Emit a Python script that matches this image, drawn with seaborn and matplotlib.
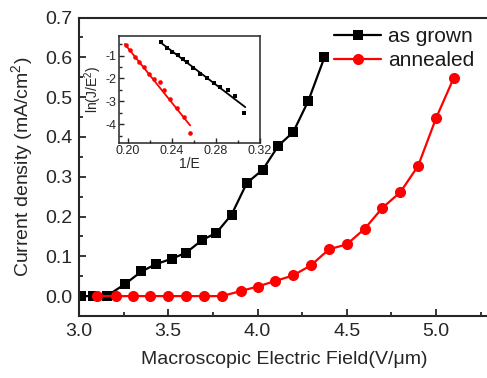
import matplotlib
matplotlib.use('Agg')
import matplotlib.pyplot as plt
from matplotlib.ticker import MultipleLocator
import seaborn as sns

# main curves: current density vs field
grown_E = [3.01, 3.08, 3.155, 3.26, 3.35, 3.43, 3.52, 3.60, 3.69, 3.77, 3.855, 3.94, 4.03,
           4.117, 4.20, 4.285, 4.375]
grown_J = [0.0, 0.0, 0.0, 0.031, 0.062, 0.080, 0.094, 0.109, 0.141, 0.159, 0.205, 0.284, 0.318,
           0.378, 0.412, 0.491, 0.600]
annealed_E = [3.10, 3.205, 3.30, 3.40, 3.50, 3.60, 3.70, 3.80, 3.905, 4.00, 4.10, 4.20, 4.30,
              4.40, 4.50, 4.60, 4.70, 4.80, 4.90, 5.00, 5.10]
annealed_J = [0.0, 0.0, 0.0, 0.0, 0.0, 0.0, 0.0, 0.0, 0.0125, 0.024, 0.038, 0.052, 0.0775,
              0.1175, 0.130, 0.169, 0.222, 0.261, 0.3275, 0.447, 0.549]

# inset: FN plot ln(J/E^2) vs 1/E
fn_grown_x = [0.2295, 0.2354, 0.2399, 0.245, 0.2495, 0.254, 0.2595, 0.2655, 0.2714, 0.278,
              0.284, 0.291, 0.2976, 0.3057]
fn_grown_y = [-0.43, -0.68, -0.85, -0.97, -1.16, -1.29, -1.56, -1.82, -1.96, -2.18,
              -2.37, -2.51, -2.78, -3.5]
fn_ann_x = [0.1982, 0.202, 0.206, 0.210, 0.2144, 0.2186, 0.2234, 0.2286, 0.233, 0.2385,
            0.2444, 0.2505, 0.2565]
fn_ann_y = [-0.56, -0.78, -1.07, -1.29, -1.51, -1.81, -2.04, -2.15, -2.51, -2.91,
            -3.28, -3.69, -4.39]
# fitted lines (end points)
fit_grown_x = [0.2295, 0.3066]
fit_grown_y = [-0.43, -3.25]
fit_ann_x = [0.197, 0.2565]
fit_ann_y = [-0.5, -4.05]

sns.set_style('ticks')
plt.rcParams['font.family'] = ['Liberation Sans', 'DejaVu Sans']
plt.rcParams['mathtext.fontset'] = 'custom'
plt.rcParams['mathtext.rm'] = 'Liberation Sans'

fig = plt.figure(figsize=(4.87, 3.78), dpi=100)
ax = fig.add_axes([79 / 487, 62 / 378, 410.6 / 487, 298.5 / 378])

sns.lineplot(x=grown_E, y=grown_J, ax=ax, color='black', marker='s', markersize=6.5,
             mec='black', mew=0, linewidth=1.6, label='as grown', sort=False)
sns.lineplot(x=annealed_E, y=annealed_J, ax=ax, color='red', marker='o', markersize=8,
             mec='red', mew=0, linewidth=1.6, label='annealed', sort=False)

ax.set_xlim(3.0, 5.3)
ax.set_ylim(-0.05, 0.7)
ax.xaxis.set_major_locator(MultipleLocator(0.5))
ax.xaxis.set_minor_locator(MultipleLocator(0.25))
ax.yaxis.set_major_locator(MultipleLocator(0.1))
ax.yaxis.set_minor_locator(MultipleLocator(0.05))
ax.xaxis.set_major_formatter(plt.FormatStrFormatter('%.1f'))
ax.yaxis.set_major_formatter(plt.FormatStrFormatter('%.1f'))
ax.tick_params(which='both', direction='in', top=False, right=False, width=1.3, labelsize=14)
ax.tick_params(which='major', length=5, pad=5)
ax.tick_params(which='minor', length=3)
for s in ax.spines.values():
    s.set_linewidth(1.5)
ax.set_xlabel('Macroscopic Electric Field(V/μm)', fontsize=14, labelpad=8)
ax.set_ylabel('Current density (mA/cm$^2$)', fontsize=14, labelpad=6)

leg = ax.legend(loc='upper left', bbox_to_anchor=(0.62, 0.968), frameon=False, fontsize=15,
                handlelength=2.3, handletextpad=0.3, labelspacing=0.25, borderpad=0,
                borderaxespad=0)
for t in leg.get_texts():
    t.set_color('#1a1a1a')

# inset
ins = fig.add_axes([119.3 / 487, (378 - 142.7) / 378, 140.7 / 487, 106.7 / 378])
sns.lineplot(x=fit_grown_x, y=fit_grown_y, ax=ins, color='black', linewidth=1.3)
sns.lineplot(x=fit_ann_x, y=fit_ann_y, ax=ins, color='red', linewidth=1.3)
sns.scatterplot(x=fn_grown_x, y=fn_grown_y, ax=ins, color='black', marker='s', s=9, linewidth=0)
sns.scatterplot(x=fn_ann_x, y=fn_ann_y, ax=ins, color='red', marker='o', s=11, linewidth=0)
ins.set_xlim(0.192, 0.32)
ins.set_ylim(-4.8, -0.15)
ins.xaxis.set_major_locator(MultipleLocator(0.04))
ins.xaxis.set_minor_locator(MultipleLocator(0.02))
ins.yaxis.set_major_locator(MultipleLocator(1))
ins.yaxis.set_minor_locator(MultipleLocator(0.5))
ins.xaxis.set_major_formatter(plt.FormatStrFormatter('%.2f'))
ins.yaxis.set_major_formatter(plt.FormatStrFormatter('%d'))
ins.tick_params(which='both', direction='in', top=False, right=False, width=1, labelsize=9, pad=2)
ins.tick_params(which='major', length=3.5)
ins.tick_params(which='minor', length=2)
for s in ins.spines.values():
    s.set_linewidth(1.1)
ins.set_xlabel('1/E', fontsize=10, labelpad=0)
ins.set_ylabel('ln(J/E$^2$)', fontsize=10, labelpad=1)

fig.savefig('out.png', dpi=100)
